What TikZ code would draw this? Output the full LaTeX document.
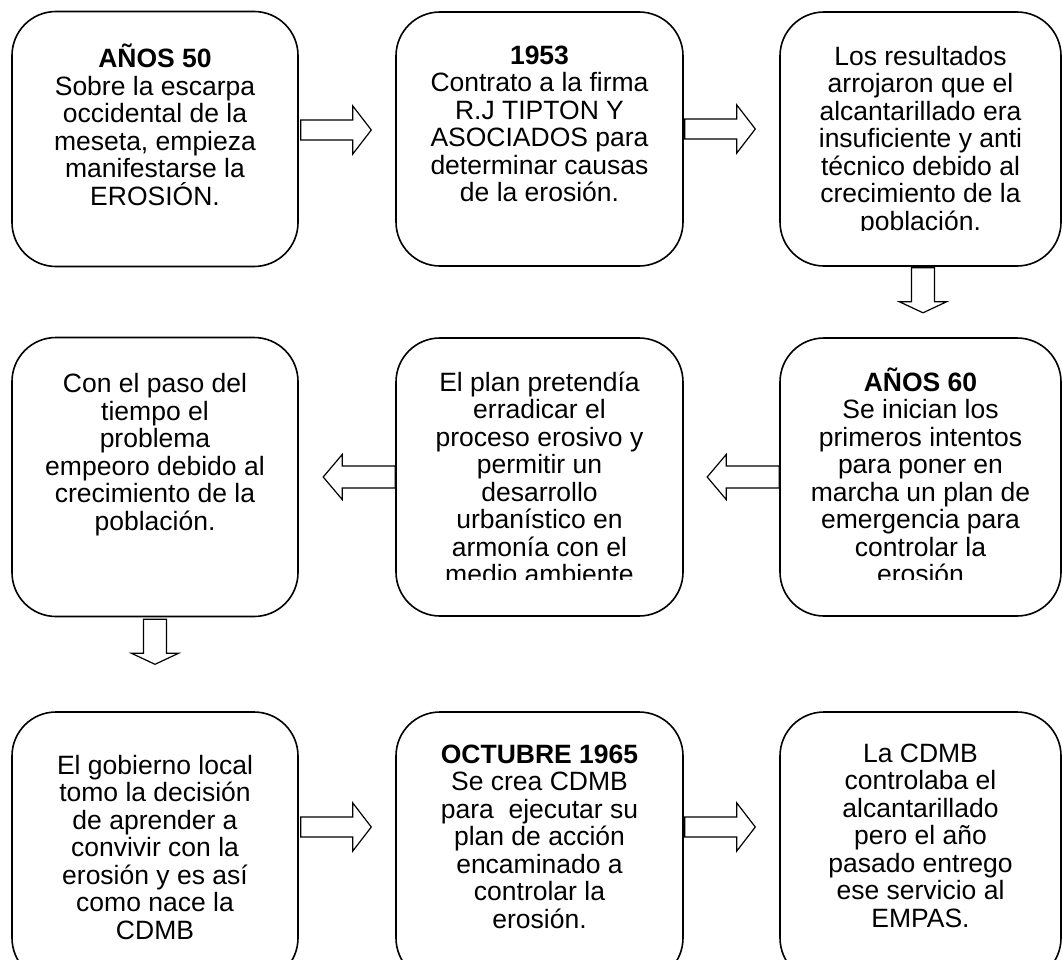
\documentclass[tikz,border=0pt]{standalone}
\usepackage{fontspec}
\setmainfont{Liberation Sans}
\usetikzlibrary{calc}
\newcommand\fstrut{\rule{0pt}{30pt}}
\tikzset{
  box/.style={draw, line width=1.6pt, rounded corners=44pt, inner sep=0pt},
  txt/.style={align=center, inner sep=0pt, anchor=north, font=\fontsize{26.5}{27.5}\selectfont},
  arr/.style={draw, line width=1.2pt, line join=miter, fill=white}
}
\newcommand\rarr[1]{\draw[arr] (#1) ++(0,-10) -- ++(52,0) -- ++(0,-14) -- ++(18.5,24) -- ++(-18.5,24) -- ++(0,-14) -- ++(-52,0) -- cycle;}
\newcommand\larr[1]{\draw[arr] (#1) ++(0,-11) -- ++(-53,0) -- ++(0,-11.5) -- ++(-19,22.5) -- ++(19,22.5) -- ++(0,-11.5) -- ++(53,0) -- cycle;}
\newcommand\darr[1]{\draw[arr] (#1) ++(-11.5,0) -- ++(0,34) -- ++(-12,0) -- ++(23.5,11) -- ++(23.5,-11) -- ++(-12,0) -- ++(0,-34) -- cycle;}
\begin{document}
\begin{tikzpicture}[x=1pt,y=-1pt]
\useasboundingbox (0,0) rectangle (1062,960);
\clip (0,0) rectangle (1062,960);
% row 1
\node[box, minimum width=286pt, minimum height=255pt] (b1) at (155,139) {};
\node[box, minimum width=287pt, minimum height=254pt] (b2) at (539.5,139) {};
\node[box, minimum width=281pt, minimum height=254pt] (b3) at (920.5,139) {};
% row 2
\node[box, minimum width=286pt, minimum height=279pt] (b4) at (155,477) {};
\node[box, minimum width=287pt, minimum height=278pt] (b5) at (539.5,477) {};
\node[box, minimum width=281pt, minimum height=278pt] (b6) at (920.5,477) {};
% row 3
\node[box, minimum width=286pt, minimum height=270pt] (b7) at (155,847) {};
\node[box, minimum width=287pt, minimum height=270pt] (b8) at (539.5,847) {};
\node[box, minimum width=281pt, minimum height=270pt] (b9) at (920.5,847) {};

% texts (first baseline = box top + offset; strut height 30)
\node[txt] (t1) at ($(b1.north)+(0,57-30)$) {\fstrut\textbf{AÑOS 50}\\Sobre la escarpa\\occidental de la\\meseta, empieza\\manifestarse la\\EROSIÓN.};
\node[txt] (t2) at ($(b2.north)+(0,53-30)$) {\fstrut\textbf{1953}\\Contrato a la firma\\R.J TIPTON Y\\ASOCIADOS para\\determinar causas\\de la erosión.};
\begin{scope}
\clip (b3.north west) rectangle ($(b3.south east)+(0,-36)$);
\node[txt] (t3) at ($(b3.north)+(0,54-30)$) {\fstrut Los resultados\\arrojaron que el\\alcantarillado era\\insuficiente y anti\\técnico debido al\\crecimiento de la\\población.};
\end{scope}
\node[txt] (t4) at ($(b4.north)+(0,56-30)$) {\fstrut Con el paso del\\tiempo el\\problema\\empeoro debido al\\crecimiento de la\\población.};
\begin{scope}
\clip (b5.north west) rectangle ($(b5.south east)+(0,-37)$);
\node[txt] (t5) at ($(b5.north)+(0,54-30)$) {\fstrut El plan pretendía\\erradicar el\\proceso erosivo y\\permitir un\\desarrollo\\urbanístico en\\armonía con el\\medio ambiente};
\end{scope}
\begin{scope}
\clip (b6.north west) rectangle ($(b6.south east)+(0,-37)$);
\node[txt] (t6) at ($(b6.north)+(0,54-30)$) {\fstrut\textbf{AÑOS 60}\\Se inician los\\primeros intentos\\para poner en\\marcha un plan de\\emergencia para\\controlar la\\erosión};
\end{scope}
\node[txt] (t7) at ($(b7.north)+(0,63-30)$) {\fstrut El gobierno local\\tomo la decisión\\de aprender a\\convivir con la\\erosión y es así\\como nace la\\CDMB};
\node[txt] (t8) at ($(b8.north)+(0,52-30)$) {\fstrut\textbf{OCTUBRE 1965}\\Se crea CDMB\\para\ \ ejecutar su\\plan de acción\\encaminado a\\controlar la\\erosión.};
\node[txt] (t9) at ($(b9.north)+(0,51-30)$) {\fstrut La CDMB\\controlaba el\\alcantarillado\\pero el año\\pasado entrego\\ese servicio al\\EMPAS.};

% connectors (block arrows)
\coordinate (p12) at ($(b1.east)+(2,-9)$);
\coordinate (p23) at ($(b2.east)+(1,-10)$);
\coordinate (p36) at ($(b3.south)+(2.5,1)$);
\coordinate (p65) at (b6.west);
\coordinate (p54) at (b5.west);
\coordinate (p47) at ($(b4.south)+(0,2)$);
\coordinate (p78) at ($(b7.east)+(2,-20)$);
\coordinate (p89) at ($(b8.east)+(1,-20)$);
\rarr{p12}
\rarr{p23}
\darr{p36}
\larr{p65}
\larr{p54}
\darr{p47}
\rarr{p78}
\rarr{p89}
\end{tikzpicture}
\end{document}
